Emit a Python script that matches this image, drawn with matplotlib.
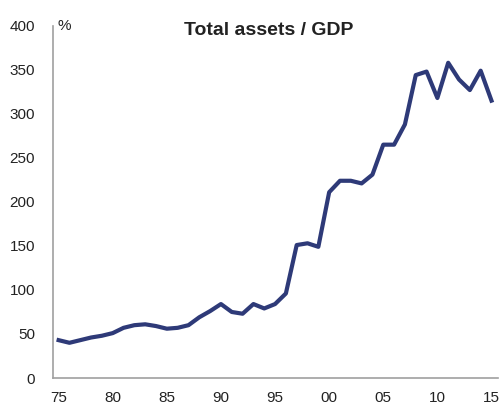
import matplotlib.pyplot as plt

plt.rcParams['font.family'] = ['Liberation Sans', 'DejaVu Sans']

# Total assets / GDP, %
years = list(range(1975, 2016))
ratio = [43, 40, 43, 46, 48, 51, 57, 60, 61, 59,
         56, 57, 60, 69, 76, 84, 75, 73, 84, 79,
         84, 96, 151, 153, 149, 211, 224, 224, 221, 231,
         265, 265, 288, 344, 348, 318, 358, 339, 327, 349,
         315]

tick_years = [1975, 1980, 1985, 1990, 1995, 2000, 2005, 2010, 2015]
tick_labels = ['75', '80', '85', '90', '95', '00', '05', '10', '15']

fig = plt.figure(figsize=(5.02, 4.03), dpi=100)
ax = fig.add_axes([0.106, 0.062, 0.886, 0.874])

ax.plot(years, ratio, color='#2E3A78', linewidth=3)

ax.set_xlim(1974.5, 2015.6)
ax.set_ylim(0, 400)
ax.set_yticks(range(0, 401, 50))
ax.set_xticks(tick_years)
ax.set_xticklabels(tick_labels)
ax.tick_params(length=0, labelsize=11, colors='#222222')
ax.tick_params(axis='y', pad=13)
ax.tick_params(axis='x', pad=9)

for side in ['top', 'right']:
    ax.spines[side].set_visible(False)
for side in ['left', 'bottom']:
    ax.spines[side].set_color('#A0A0A0')
    ax.spines[side].set_linewidth(1.2)

ax.text(0.009, 1.0, '%', transform=ax.transAxes, fontsize=11,
        ha='left', va='center', color='#222222')
fig.text(0.536, 0.925, 'Total assets / GDP', fontsize=14,
         fontweight='bold', ha='center', va='center', color='#222222')

fig.savefig('out.png', dpi=100)
